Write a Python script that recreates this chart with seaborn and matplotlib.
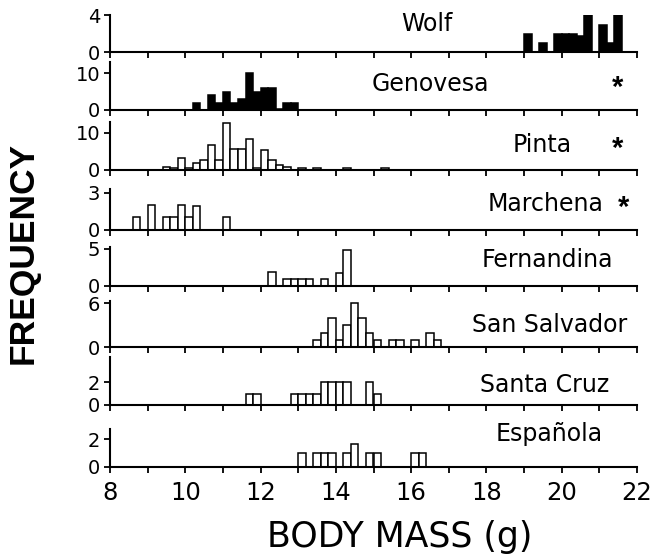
import numpy as np
import pandas as pd
import matplotlib
matplotlib.use("Agg")
import matplotlib.pyplot as plt
import seaborn as sns

# ---------------- data (bin start in g, frequency) ----------------
islands = ["Wolf", "Genovesa", "Pinta", "Marchena", "Fernandina",
           "San Salvador", "Santa Cruz", "Española"]

wolf_bins = [19.0, 19.4, 19.8, 20.0, 20.2, 20.4, 20.6, 21.0, 21.2, 21.4]
wolf_freq = [2, 1, 2, 2, 2, 1.7, 4, 3, 1, 4]

genovesa_bins = [10.2, 10.6, 10.8, 11.0, 11.2, 11.4, 11.6, 11.8, 12.0, 12.2, 12.4, 12.6, 12.8]
genovesa_freq = [2, 4, 2, 5, 2, 3, 10, 5, 6, 6, 0.4, 2, 2]

pinta_bins = [9.4, 9.6, 9.8, 10.0, 10.2, 10.4, 10.6, 10.8, 11.0, 11.2, 11.4,
              11.6, 11.8, 12.0, 12.2, 12.4, 12.6, 13.0, 13.4, 14.2, 15.2]
pinta_freq = [0.6, 0.5, 3, 0.5, 1.8, 2.6, 6.6, 2.6, 12.6, 5.6, 5.6,
              8.3, 0.5, 5.4, 2.5, 1.2, 0.6, 0.5, 0.5, 0.3, 0.3]

marchena_bins = [8.6, 9.0, 9.4, 9.6, 9.8, 10.0, 10.2, 11.0]
marchena_freq = [1, 2, 1, 1, 2, 1, 1.9, 1]

fernandina_bins = [12.2, 12.6, 12.8, 13.0, 13.2, 13.6, 14.0, 14.2]
fernandina_freq = [1.9, 0.9, 0.9, 0.9, 0.9, 0.9, 1.7, 4.8]

sansalvador_bins = [13.4, 13.6, 13.8, 14.0, 14.2, 14.4, 14.6, 14.8, 15.0,
                    15.4, 15.6, 16.0, 16.4, 16.6]
sansalvador_freq = [1, 2, 4, 1, 3, 6, 4, 2, 1, 1, 1, 1, 2, 1]

santacruz_bins = [11.6, 11.8, 12.8, 13.0, 13.2, 13.4, 13.6, 13.8, 14.0, 14.2, 14.8, 15.0]
santacruz_freq = [1, 1, 1, 1, 1, 1, 2, 2, 2, 2, 2, 1]

espanola_bins = [13.0, 13.4, 13.6, 13.8, 14.2, 14.4, 14.8, 15.0, 16.0, 16.2]
espanola_freq = [1, 1, 1, 1, 1, 1.7, 1, 1, 1, 1]

y_ticks = [[0, 4], [0, 10], [0, 10], [0, 3], [0, 5], [0, 6], [0, 2], [0, 2]]
y_tops = [4.05, 13, 12.8, 3.28, 5.3, 6.36, 4.2, 2.75]
significant = [False, True, True, True, False, False, False, False]
filled = [True, True, False, False, False, False, False, False]

x_tick_values = list(range(8, 23))
x_tick_labels = [str(v) if v % 2 == 0 else "" for v in x_tick_values]

all_bins = [wolf_bins, genovesa_bins, pinta_bins, marchena_bins, fernandina_bins,
            sansalvador_bins, santacruz_bins, espanola_bins]
all_freq = [wolf_freq, genovesa_freq, pinta_freq, marchena_freq, fernandina_freq,
            sansalvador_freq, santacruz_freq, espanola_freq]

# ---------------- layout (pixels) ----------------
W, H = 652, 554
x_left, x_right = 110, 637
baselines = [52.0, 110.0, 169.5, 229.8, 285.5, 347.2, 405.0, 466.5]
tops = [15.0, 62.3, 122.3, 189.3, 246.5, 300.5, 356.7, 429.3]
label_pos = [(427, 24), (430, 84.3), (542.6, 145.3), (545.5, 204),
             (547, 260), (550, 324.5), (545, 384.5), (549, 434.3)]
star_x = [None, 617.5, 617.5, 623.5]

sns.set_theme(style="ticks")
plt.rcParams["font.family"] = ["DejaVu Sans"]

fig = plt.figure(figsize=(W / 100, H / 100), dpi=100)

for i, name in enumerate(islands):
    b, t = baselines[i], tops[i]
    ax = fig.add_axes([x_left / W, 1 - b / H, (x_right - x_left) / W, (b - t) / H])
    df = pd.DataFrame({"mass": np.array(all_bins[i], dtype=float) + 0.1,
                       "freq": np.array(all_freq[i], dtype=float)})
    sns.histplot(data=df, x="mass", weights="freq", binwidth=0.2, binrange=(8, 22),
                 ax=ax, color="black" if filled[i] else "white", edgecolor="black",
                 linewidth=1.1, alpha=1)
    ax.set_xlim(8, 22)
    ax.set_ylim(0, y_tops[i])
    ax.set_facecolor("none")
    sns.despine(ax=ax)
    for s in ["left", "bottom"]:
        ax.spines[s].set_linewidth(1.5)
        ax.spines[s].set_color("black")
    ax.set_xticks(x_tick_values)
    if i == len(islands) - 1:
        ax.set_xticklabels(x_tick_labels, fontsize=17.5)
    else:
        ax.set_xticklabels([])
    ax.set_yticks(y_ticks[i])
    ax.set_yticklabels([str(v) for v in y_ticks[i]], fontsize=14)
    ax.tick_params(axis="both", direction="out", length=4.5, width=1.3,
                   color="black", labelcolor="black")
    ax.tick_params(axis="y", pad=2.5)
    ax.tick_params(axis="x", pad=6)
    ax.set_xlabel("")
    ax.set_ylabel("")
    lx, ly = label_pos[i]
    fig.text(lx / W, 1 - ly / H, name, ha="center", va="center", fontsize=17, color="black")
    if significant[i]:
        fig.text(star_x[i] / W, 1 - (ly + 4) / H, "*", ha="center", va="center",
                 fontsize=21, fontweight="bold", color="black",
                 family=["Liberation Sans", "DejaVu Sans"])

fig.text(400 / W, 1 - 537 / H, "BODY MASS (g)", ha="center", va="center",
         fontsize=25, color="black")
fig.text(23 / W, 1 - 253 / H, "FREQUENCY", ha="center", va="center",
         rotation=90, fontsize=25.5, fontweight="bold", color="black",
         family=["Liberation Sans", "DejaVu Sans"])

fig.savefig("out.png", dpi=100, facecolor="white")
